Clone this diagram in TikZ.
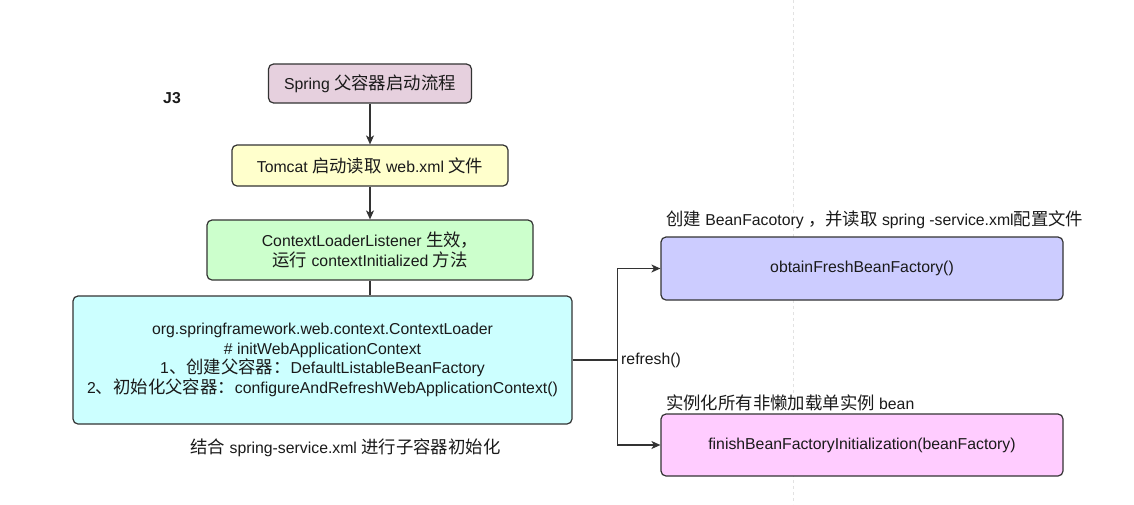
\documentclass[tikz,border=0pt]{standalone}
\usepackage{fontspec}
\setmainfont{Liberation Sans}
\newfontfamily\cjk[Scale=1.1]{Noto Sans CJK SC}
\usetikzlibrary{arrows.meta}
\definecolor{edge}{HTML}{333333}
\definecolor{txt}{HTML}{1A1A1A}
\definecolor{cpurple}{HTML}{E6D0DE}
\definecolor{cyellow}{HTML}{FFFFCC}
\definecolor{cgreen}{HTML}{CCFFCC}
\definecolor{ccyan}{HTML}{CCFFFF}
\definecolor{cblue}{HTML}{CCCCFF}
\definecolor{cpink}{HTML}{FFCCFF}
\definecolor{guide}{HTML}{E2E2E2}
\begin{document}
\begin{tikzpicture}[x=1pt,y=-1pt,
  font=\fontsize{15.8}{19.5}\selectfont,
  box/.style={draw=edge, text=txt, line width=1.2pt, rounded corners=5pt, align=center, inner sep=0pt},
  conn/.style={draw=edge, line width=1.3pt},
  arr/.style={conn, -{Stealth[length=9pt,width=8pt,inset=2.5pt]}},
  lbl/.style={inner sep=0pt, text=txt}]
\useasboundingbox (0,0) rectangle (1134,504);
\fill[white] (0,0) rectangle (1134,504);
\draw[guide, line width=1pt, dash pattern=on 3pt off 3pt] (793,0) -- (793,504);

\node[lbl, font=\bfseries\fontsize{15.8}{18}\selectfont] (j3) at (172,98) {J3};

\node[box, fill=cpurple, minimum width=203pt, minimum height=39pt] (b1) at (370,83.5)
  {Spring {\cjk 父容器启动流程}};
\node[box, fill=cyellow, minimum width=276pt, minimum height=41pt] (b2) at (370,165.5)
  {Tomcat {\cjk 启动读取} web.xml {\cjk 文件}};
\node[box, fill=cgreen, minimum width=326pt, minimum height=60pt] (b3) at (370,250)
  {ContextLoaderListener {\cjk 生效，}\\ {\cjk 运行} contextInitialized {\cjk 方法}};
\node[box, fill=ccyan, minimum width=499pt, minimum height=128pt] (b4) at (322.5,360)
  {org.springframework.web.context.ContextLoader\\
   \# initWebApplicationContext\\
   1{\cjk 、创建父容器：}DefaultListableBeanFactory\\
   2{\cjk 、初始化父容器：}configureAndRefreshWebApplicationContext()};
\node[lbl] (cap) at (345.5,448) {{\cjk 结合} spring-service.xml {\cjk 进行子容器初始化}};

\node[box, fill=cblue, minimum width=402pt, minimum height=63pt] (b5) at (862,268.5)
  {obtainFreshBeanFactory()};
\node[box, fill=cpink, minimum width=402pt, minimum height=62pt] (b6) at (862,445)
  {finishBeanFactoryInitialization(beanFactory)};
\node[lbl, anchor=west] (t5) at (666,220)
  {{\cjk 创建} BeanFacotory {\cjk ，并读取} spring -service.xml{\cjk 配置文件}};
\node[lbl, anchor=west] (t6) at (666,403)
  {{\cjk 实例化所有非懒加载单实例} bean};

\draw[arr] (b1.south) -- (b2.north);
\draw[arr] (b2.south) -- (b3.north);
\draw[conn] (b3.south) -- (b4.north -| b3.south);
\draw[conn] (b4.east) -- ++(45,0) coordinate (j);
\draw[arr] (j) |- (b5.west);
\draw[arr] (j) |- (b6.west);
\node[lbl, anchor=west] (rf) at (621,360) {refresh()};
\end{tikzpicture}
\end{document}
